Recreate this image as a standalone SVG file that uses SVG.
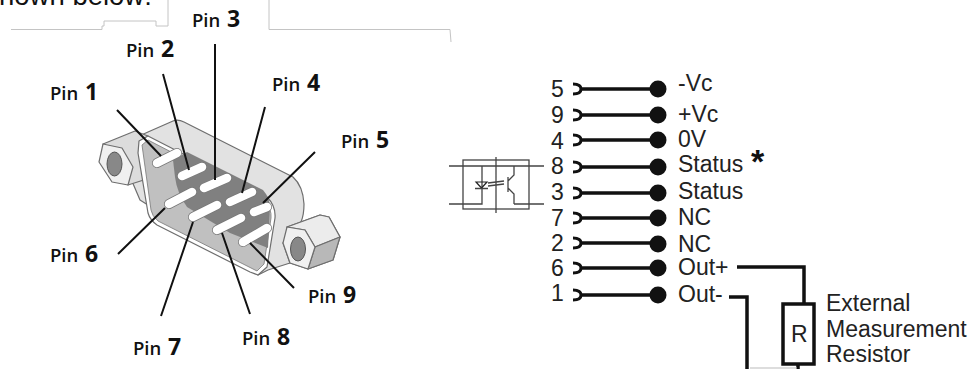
<svg xmlns="http://www.w3.org/2000/svg" width="977" height="369" viewBox="0 0 977 369">
<style>
.pin{font-family:"Open Sans","Noto Sans",sans-serif;font-weight:600;font-size:18.500px;fill:#111}
.pin tspan{font-size:23px;font-weight:700}
.lbl{font-family:"Liberation Sans",Arial,sans-serif;font-size:23px;fill:#222}
.lead{stroke:#111;stroke-width:2;fill:none}
.wire{stroke:#111;stroke-width:3.500;fill:none}
.dot{fill:#111}
.cup{stroke:#111;stroke-width:3;fill:none}
.edge{stroke:#6e6e6e;stroke-width:1.200;stroke-linejoin:round}
.cpin{stroke:#777;stroke-width:10;stroke-linecap:round}
.cpinw{stroke:#fff;stroke-width:8.500;stroke-linecap:round}
.opt{stroke:#444;stroke-width:1.300;fill:none}
.frame{stroke:#c4c4c4;stroke-width:1;fill:none}
</style>
<rect width="977" height="369" fill="#fff"/>
<text x="-1" y="4.500" font-family="Liberation Sans,Arial,sans-serif" font-size="27.500" fill="#111">hown below:</text>
<path class="frame" d="M11 29.500H102V26H104V21H156V26H168V0M269 0V29.500H450L451 42"/>

<g id="connector">
<path d="M117 146L148 132L173 121Q178 119 184 122L293 177Q303 186 304 204Q304 215 301 222L283 243L290 263L268 270L258 275L140 200Z" fill="#e2e2e2" class="edge"/>
<g id="nut-left">
<path d="M103 144L135 131L148 136L150 178L128 185Z" fill="#dcdcdc" class="edge"/>
<path d="M99 162L103 144L122 148L133 167L128 185L112 182Z" fill="#f0f0f0" class="edge"/>
<ellipse cx="114.500" cy="164" rx="7.500" ry="12" fill="#888" stroke="#555" stroke-width="1"/>
</g>
<path d="M139 141L148 136L267 197Q276 206 275 218L267 267L258 275L250 272L157 225Q150 220 148 213L138 153Z" fill="#fff" class="edge"/>
<path d="M142 145L148 140L264 200Q272 209 271 218L264 264L257 271L158 221Q152 216 151 210Z" fill="#c0c0c0" stroke="#777" stroke-width="0.800"/>
<path d="M173 160L187 152L263 190Q270 198 270 207L268 248L230 233L187 207Q177 193 175 177Z" fill="#808080"/>
<g id="nut-right">
<path d="M287 227L320 215L329 217L340 237L333 260L308 269L290 263Z" fill="#d4d4d4" class="edge"/>
<path d="M287 227L320 215L329 217L340 237L315 247L305 230Z" fill="#ececec" class="edge"/>
<path d="M315 247L340 237L333 260L308 269Z" fill="#b8b8b8" class="edge"/>
<path d="M283 243L287 227L305 230L315 247L308 269L290 263Z" fill="#f0f0f0" class="edge"/>
<ellipse cx="298" cy="249" rx="7.500" ry="12" fill="#888" stroke="#555" stroke-width="1"/>
</g>
<g id="contacts">
<path class="cpin" d="M157 163L177 153M182 176L202 167M204 188L227 178M230 202L252 192M254 212L267 207M169 204L192 192M193 217L217 205M217 230L241 218M243 242L267 228"/>
<path class="cpinw" d="M157 163L177 153M182 176L202 167M204 188L227 178M230 202L252 192M254 212L267 207M169 204L192 192M193 217L217 205M217 230L241 218M243 242L267 228"/>
</g>
</g>

<g id="pin-leaders">
<path class="lead" d="M117 110L161 156M163 74L189 170M215 44V180M265 107L242 193M315 152L263 203M118 254L165 208M161 316L193 222M250 314L222 233M294 288L250 243"/>
</g>
<g id="pin-labels">
<text class="pin" x="50" y="100">Pin <tspan dx="2">1</tspan></text>
<text class="pin" x="126" y="57">Pin <tspan dx="2">2</tspan></text>
<text class="pin" x="192" y="27">Pin <tspan dx="2">3</tspan></text>
<text class="pin" x="272" y="91">Pin <tspan dx="2">4</tspan></text>
<text class="pin" x="341" y="148">Pin <tspan dx="2">5</tspan></text>
<text class="pin" x="50" y="262">Pin <tspan dx="2">6</tspan></text>
<text class="pin" x="133" y="355">Pin <tspan dx="2">7</tspan></text>
<text class="pin" x="242" y="345">Pin <tspan dx="2">8</tspan></text>
<text class="pin" x="308" y="303">Pin <tspan dx="2">9</tspan></text>
</g>

<g id="optocoupler">
<rect class="opt" x="463" y="160" width="66" height="49"/>
<path class="opt" d="M449 166H544M449 204H482V166M514 204H544M496 157V213M508 177V192M508 181L514 175V166M508 188L514 194V204"/>
<path d="M476 182H487L481.500 188Z" fill="none" stroke="#222" stroke-width="1.200"/>
<path class="opt" d="M475 188.500H488M488 183L504 181M488 186L504 184"/>
</g>

<g id="connectors">
<g class="wire">
<path d="M580 89H658M580 115H658M580 140H658M580 167H658M580 193H658M580 218H658M580 243H658M580 268H658M580 295H658"/>
<path d="M737 267H804V304M729 297H747V369M798 364V369"/>
</g>
<path d="M750 368H797" stroke="#bbb" stroke-width="1" fill="none"/>
<g class="cup">
<path d="M573 84Q581 84 581 89Q581 94 573 94M573 110Q581 110 581 115Q581 120 573 120M573 135Q581 135 581 140Q581 145 573 145M573 162Q581 162 581 167Q581 172 573 172M573 188Q581 188 581 193Q581 198 573 198M573 213Q581 213 581 218Q581 223 573 223M573 238Q581 238 581 243Q581 248 573 248M573 263Q581 263 581 268Q581 273 573 273M573 290Q581 290 581 295Q581 300 573 300"/>
</g>
</g>

<g id="terminals">
<circle class="dot" cx="658" cy="89" r="8.500"/><circle class="dot" cx="658" cy="115" r="8.500"/><circle class="dot" cx="658" cy="140" r="8.500"/><circle class="dot" cx="658" cy="167" r="8.500"/><circle class="dot" cx="658" cy="193" r="8.500"/><circle class="dot" cx="658" cy="218" r="8.500"/><circle class="dot" cx="658" cy="244" r="8.500"/><circle class="dot" cx="658" cy="268" r="8.500"/><circle class="dot" cx="658" cy="295" r="8.500"/>
<g class="lbl">
<text x="551" y="97">5</text><text x="551" y="123">9</text><text x="551" y="149">4</text><text x="551" y="174">8</text><text x="551" y="200">3</text><text x="551" y="226">7</text><text x="551" y="251">2</text><text x="551" y="276">6</text><text x="551" y="301">1</text>
<text x="678" y="91">-Vc</text><text x="678" y="122">+Vc</text><text x="678" y="147">0V</text><text x="678" y="172">Status</text><text x="678" y="199">Status</text><text x="678" y="225">NC</text><text x="678" y="252">NC</text><text x="678" y="275">Out+</text><text x="678" y="302">Out-</text>
</g>
<text x="751" y="173" font-family="Liberation Sans,Arial,sans-serif" font-weight="700" font-size="34" fill="#111">*</text>
</g>

<g id="resistor">
<rect x="783" y="304" width="31" height="60" fill="#fff" stroke="#111" stroke-width="3.500"/>
<text class="lbl" x="791" y="342">R</text>
<text class="lbl" x="826" y="311">External</text>
<text class="lbl" x="826" y="337">Measurement</text>
<text class="lbl" x="826" y="362">Resistor</text>
</g>
</svg>
